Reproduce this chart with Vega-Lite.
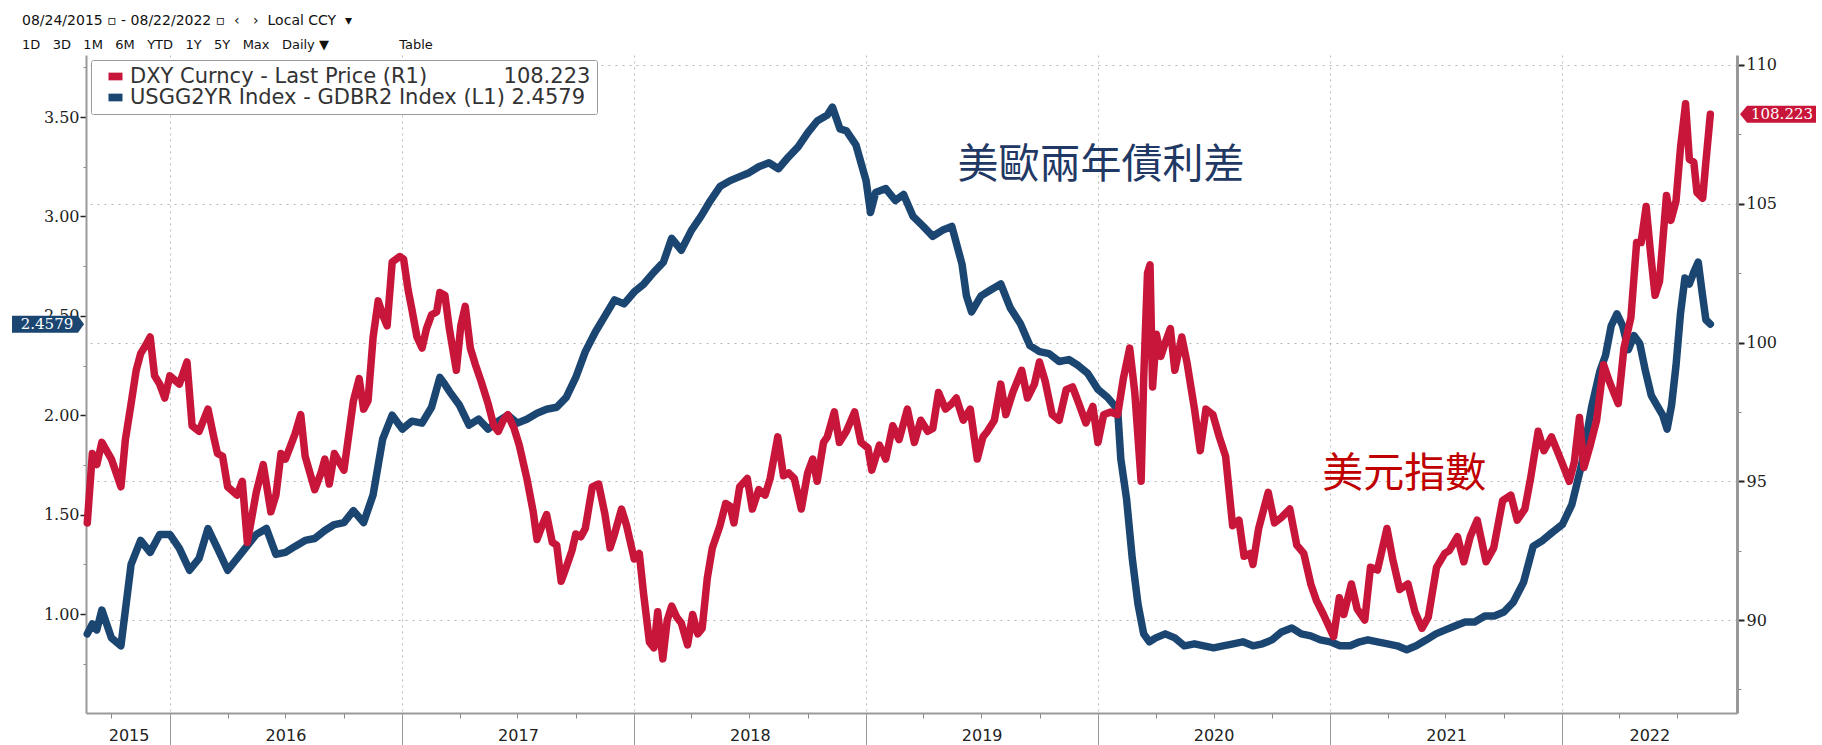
{
  "$schema": "https://vega.github.io/schema/vega-lite/v6.json",
  "width": 1651,
  "height": 658,
  "autosize": {"type": "none"},
  "padding": {"left": 86, "top": 55, "right": 85, "bottom": 32},
  "background": "white",
  "title": {
    "text": "08/24/2015 \u25ab - 08/22/2022 \u25ab \u00a0\u2039\u00a0 \u00a0\u203a\u00a0 Local CCY \u00a0\u25be",
    "subtitle": "1D \u00a0 3D \u00a0 1M \u00a0 6M \u00a0 YTD \u00a0 1Y \u00a0 5Y \u00a0 Max \u00a0 Daily \u25bc \u00a0 \u00a0 \u00a0 \u00a0 \u00a0 \u00a0 \u00a0 \u00a0 Table",
    "anchor": "start",
    "frame": "group",
    "dx": -64,
    "offset": 3,
    "font": "DejaVu Sans",
    "fontSize": 14,
    "fontWeight": "normal",
    "color": "#111111",
    "subtitleFont": "DejaVu Sans",
    "subtitleFontSize": 13,
    "subtitleColor": "#111111",
    "subtitlePadding": 11
  },
  "config": {"view": {"stroke": null}},
  "datasets": {
    "spread": [
      {"date": "2015-08-24", "value": 0.9}, {"date": "2015-09-01", "value": 0.95}, {"date": "2015-09-08", "value": 0.92}, {"date": "2015-09-16", "value": 1.02},
      {"date": "2015-10-01", "value": 0.88}, {"date": "2015-10-16", "value": 0.84}, {"date": "2015-11-01", "value": 1.25}, {"date": "2015-11-16", "value": 1.37},
      {"date": "2015-12-01", "value": 1.31}, {"date": "2015-12-16", "value": 1.4}, {"date": "2016-01-01", "value": 1.4}, {"date": "2016-01-16", "value": 1.33},
      {"date": "2016-02-01", "value": 1.22}, {"date": "2016-02-16", "value": 1.28}, {"date": "2016-03-01", "value": 1.43}, {"date": "2016-03-16", "value": 1.33},
      {"date": "2016-04-01", "value": 1.22}, {"date": "2016-04-16", "value": 1.28}, {"date": "2016-05-01", "value": 1.34}, {"date": "2016-05-16", "value": 1.4},
      {"date": "2016-06-01", "value": 1.43}, {"date": "2016-06-16", "value": 1.3}, {"date": "2016-07-01", "value": 1.31}, {"date": "2016-07-16", "value": 1.34},
      {"date": "2016-08-01", "value": 1.37}, {"date": "2016-08-16", "value": 1.38}, {"date": "2016-09-01", "value": 1.42}, {"date": "2016-09-16", "value": 1.45},
      {"date": "2016-10-01", "value": 1.46}, {"date": "2016-10-16", "value": 1.52}, {"date": "2016-11-01", "value": 1.46}, {"date": "2016-11-16", "value": 1.6},
      {"date": "2016-12-01", "value": 1.88}, {"date": "2016-12-16", "value": 2.0}, {"date": "2017-01-01", "value": 1.93}, {"date": "2017-01-16", "value": 1.97},
      {"date": "2017-02-01", "value": 1.96}, {"date": "2017-02-16", "value": 2.04}, {"date": "2017-03-01", "value": 2.19}, {"date": "2017-03-08", "value": 2.16},
      {"date": "2017-03-16", "value": 2.12}, {"date": "2017-04-01", "value": 2.05}, {"date": "2017-04-16", "value": 1.95}, {"date": "2017-05-01", "value": 1.98},
      {"date": "2017-05-16", "value": 1.93}, {"date": "2017-06-01", "value": 1.97}, {"date": "2017-06-16", "value": 2.0}, {"date": "2017-07-01", "value": 1.96},
      {"date": "2017-07-16", "value": 1.98}, {"date": "2017-08-01", "value": 2.01}, {"date": "2017-08-16", "value": 2.03}, {"date": "2017-09-01", "value": 2.04},
      {"date": "2017-09-16", "value": 2.09}, {"date": "2017-10-01", "value": 2.19}, {"date": "2017-10-16", "value": 2.32}, {"date": "2017-11-01", "value": 2.42},
      {"date": "2017-11-16", "value": 2.5}, {"date": "2017-12-01", "value": 2.58}, {"date": "2017-12-16", "value": 2.56}, {"date": "2018-01-01", "value": 2.62},
      {"date": "2018-01-16", "value": 2.66}, {"date": "2018-02-01", "value": 2.72}, {"date": "2018-02-16", "value": 2.77}, {"date": "2018-03-01", "value": 2.89},
      {"date": "2018-03-16", "value": 2.83}, {"date": "2018-04-01", "value": 2.93}, {"date": "2018-04-16", "value": 3.0}, {"date": "2018-05-01", "value": 3.08},
      {"date": "2018-05-16", "value": 3.15}, {"date": "2018-06-01", "value": 3.18}, {"date": "2018-06-16", "value": 3.2}, {"date": "2018-07-01", "value": 3.22},
      {"date": "2018-07-16", "value": 3.25}, {"date": "2018-08-01", "value": 3.27}, {"date": "2018-08-16", "value": 3.24}, {"date": "2018-09-01", "value": 3.3},
      {"date": "2018-09-16", "value": 3.35}, {"date": "2018-10-01", "value": 3.42}, {"date": "2018-10-16", "value": 3.48}, {"date": "2018-11-01", "value": 3.51},
      {"date": "2018-11-09", "value": 3.55}, {"date": "2018-11-21", "value": 3.44}, {"date": "2018-12-01", "value": 3.43}, {"date": "2018-12-16", "value": 3.36},
      {"date": "2019-01-01", "value": 3.18}, {"date": "2019-01-08", "value": 3.02}, {"date": "2019-01-16", "value": 3.12}, {"date": "2019-02-01", "value": 3.14},
      {"date": "2019-02-16", "value": 3.08}, {"date": "2019-03-01", "value": 3.11}, {"date": "2019-03-16", "value": 3.0}, {"date": "2019-04-01", "value": 2.95},
      {"date": "2019-04-16", "value": 2.9}, {"date": "2019-05-01", "value": 2.93}, {"date": "2019-05-16", "value": 2.95}, {"date": "2019-06-01", "value": 2.76},
      {"date": "2019-06-08", "value": 2.6}, {"date": "2019-06-16", "value": 2.52}, {"date": "2019-07-01", "value": 2.6}, {"date": "2019-07-16", "value": 2.63},
      {"date": "2019-08-01", "value": 2.66}, {"date": "2019-08-16", "value": 2.54}, {"date": "2019-09-01", "value": 2.46}, {"date": "2019-09-16", "value": 2.35},
      {"date": "2019-10-01", "value": 2.32}, {"date": "2019-10-16", "value": 2.31}, {"date": "2019-11-01", "value": 2.27}, {"date": "2019-11-16", "value": 2.28},
      {"date": "2019-12-01", "value": 2.25}, {"date": "2019-12-16", "value": 2.21}, {"date": "2020-01-01", "value": 2.13}, {"date": "2020-01-16", "value": 2.09},
      {"date": "2020-02-01", "value": 2.03}, {"date": "2020-02-06", "value": 1.78}, {"date": "2020-02-15", "value": 1.58}, {"date": "2020-02-24", "value": 1.28},
      {"date": "2020-03-04", "value": 1.05}, {"date": "2020-03-13", "value": 0.9}, {"date": "2020-03-22", "value": 0.86}, {"date": "2020-04-01", "value": 0.88},
      {"date": "2020-04-16", "value": 0.9}, {"date": "2020-05-01", "value": 0.88}, {"date": "2020-05-16", "value": 0.84}, {"date": "2020-06-01", "value": 0.85},
      {"date": "2020-06-16", "value": 0.84}, {"date": "2020-07-01", "value": 0.83}, {"date": "2020-07-16", "value": 0.84}, {"date": "2020-08-01", "value": 0.85},
      {"date": "2020-08-16", "value": 0.86}, {"date": "2020-09-01", "value": 0.84}, {"date": "2020-09-16", "value": 0.85}, {"date": "2020-10-01", "value": 0.87},
      {"date": "2020-10-16", "value": 0.91}, {"date": "2020-11-01", "value": 0.93}, {"date": "2020-11-16", "value": 0.9}, {"date": "2020-12-01", "value": 0.89},
      {"date": "2020-12-16", "value": 0.87}, {"date": "2021-01-01", "value": 0.86}, {"date": "2021-01-16", "value": 0.84}, {"date": "2021-02-01", "value": 0.84},
      {"date": "2021-02-16", "value": 0.86}, {"date": "2021-03-01", "value": 0.87}, {"date": "2021-03-16", "value": 0.86}, {"date": "2021-04-01", "value": 0.85},
      {"date": "2021-04-16", "value": 0.84}, {"date": "2021-05-01", "value": 0.82}, {"date": "2021-05-16", "value": 0.84}, {"date": "2021-06-01", "value": 0.87},
      {"date": "2021-06-16", "value": 0.9}, {"date": "2021-07-01", "value": 0.92}, {"date": "2021-07-16", "value": 0.94}, {"date": "2021-08-01", "value": 0.96},
      {"date": "2021-08-16", "value": 0.96}, {"date": "2021-09-01", "value": 0.99}, {"date": "2021-09-16", "value": 0.99}, {"date": "2021-10-01", "value": 1.01},
      {"date": "2021-10-16", "value": 1.06}, {"date": "2021-11-01", "value": 1.16}, {"date": "2021-11-16", "value": 1.34}, {"date": "2021-12-01", "value": 1.37},
      {"date": "2021-12-16", "value": 1.41}, {"date": "2022-01-01", "value": 1.45}, {"date": "2022-01-16", "value": 1.55}, {"date": "2022-02-01", "value": 1.76},
      {"date": "2022-02-16", "value": 2.04}, {"date": "2022-03-01", "value": 2.22}, {"date": "2022-03-10", "value": 2.3}, {"date": "2022-03-19", "value": 2.45},
      {"date": "2022-03-28", "value": 2.51}, {"date": "2022-04-06", "value": 2.45}, {"date": "2022-04-15", "value": 2.33}, {"date": "2022-04-24", "value": 2.4},
      {"date": "2022-05-03", "value": 2.36}, {"date": "2022-05-12", "value": 2.22}, {"date": "2022-05-21", "value": 2.1}, {"date": "2022-05-30", "value": 2.05},
      {"date": "2022-06-08", "value": 2.0}, {"date": "2022-06-15", "value": 1.93}, {"date": "2022-06-22", "value": 2.05}, {"date": "2022-06-29", "value": 2.25},
      {"date": "2022-07-06", "value": 2.51}, {"date": "2022-07-13", "value": 2.69}, {"date": "2022-07-20", "value": 2.66}, {"date": "2022-07-27", "value": 2.72},
      {"date": "2022-08-03", "value": 2.77}, {"date": "2022-08-09", "value": 2.62}, {"date": "2022-08-15", "value": 2.48}, {"date": "2022-08-22", "value": 2.4579}
    ],
    "dxy": [
      {"date": "2015-08-24", "value": 93.5}, {"date": "2015-09-01", "value": 96.0}, {"date": "2015-09-08", "value": 95.6}, {"date": "2015-09-16", "value": 96.4},
      {"date": "2015-10-01", "value": 95.8}, {"date": "2015-10-16", "value": 94.8}, {"date": "2015-10-23", "value": 96.5}, {"date": "2015-11-01", "value": 97.8},
      {"date": "2015-11-09", "value": 99.0}, {"date": "2015-11-16", "value": 99.6}, {"date": "2015-11-24", "value": 99.9}, {"date": "2015-12-01", "value": 100.2},
      {"date": "2015-12-08", "value": 98.8}, {"date": "2015-12-16", "value": 98.5}, {"date": "2015-12-24", "value": 98.0}, {"date": "2016-01-01", "value": 98.8},
      {"date": "2016-01-16", "value": 98.5}, {"date": "2016-01-28", "value": 99.3}, {"date": "2016-02-05", "value": 97.0}, {"date": "2016-02-16", "value": 96.8},
      {"date": "2016-03-01", "value": 97.6}, {"date": "2016-03-10", "value": 96.6}, {"date": "2016-03-16", "value": 96.0}, {"date": "2016-03-24", "value": 95.9},
      {"date": "2016-04-01", "value": 94.8}, {"date": "2016-04-16", "value": 94.5}, {"date": "2016-04-24", "value": 95.0}, {"date": "2016-05-02", "value": 92.8},
      {"date": "2016-05-16", "value": 94.6}, {"date": "2016-05-27", "value": 95.6}, {"date": "2016-06-08", "value": 93.9}, {"date": "2016-06-16", "value": 94.5},
      {"date": "2016-06-24", "value": 96.0}, {"date": "2016-07-01", "value": 95.8}, {"date": "2016-07-16", "value": 96.7}, {"date": "2016-07-25", "value": 97.4},
      {"date": "2016-08-01", "value": 95.9}, {"date": "2016-08-16", "value": 94.7}, {"date": "2016-08-26", "value": 95.3}, {"date": "2016-09-01", "value": 95.8},
      {"date": "2016-09-08", "value": 94.9}, {"date": "2016-09-16", "value": 96.0}, {"date": "2016-10-01", "value": 95.4}, {"date": "2016-10-16", "value": 97.9},
      {"date": "2016-10-25", "value": 98.7}, {"date": "2016-11-01", "value": 97.6}, {"date": "2016-11-08", "value": 97.9}, {"date": "2016-11-16", "value": 100.2},
      {"date": "2016-11-24", "value": 101.5}, {"date": "2016-12-01", "value": 101.0}, {"date": "2016-12-08", "value": 100.6}, {"date": "2016-12-16", "value": 102.9},
      {"date": "2016-12-28", "value": 103.1}, {"date": "2017-01-03", "value": 103.0}, {"date": "2017-01-10", "value": 101.9}, {"date": "2017-01-16", "value": 101.2},
      {"date": "2017-01-24", "value": 100.2}, {"date": "2017-02-01", "value": 99.8}, {"date": "2017-02-08", "value": 100.5}, {"date": "2017-02-16", "value": 101.0},
      {"date": "2017-02-24", "value": 101.1}, {"date": "2017-03-01", "value": 101.8}, {"date": "2017-03-09", "value": 101.7}, {"date": "2017-03-16", "value": 100.5},
      {"date": "2017-03-27", "value": 99.0}, {"date": "2017-04-03", "value": 100.6}, {"date": "2017-04-10", "value": 101.3}, {"date": "2017-04-18", "value": 99.8},
      {"date": "2017-04-26", "value": 99.2}, {"date": "2017-05-05", "value": 98.6}, {"date": "2017-05-16", "value": 97.8}, {"date": "2017-05-25", "value": 97.0},
      {"date": "2017-06-01", "value": 96.8}, {"date": "2017-06-09", "value": 97.2}, {"date": "2017-06-16", "value": 97.4}, {"date": "2017-06-26", "value": 96.9},
      {"date": "2017-07-04", "value": 96.3}, {"date": "2017-07-16", "value": 95.1}, {"date": "2017-07-26", "value": 93.9}, {"date": "2017-08-01", "value": 92.9},
      {"date": "2017-08-09", "value": 93.4}, {"date": "2017-08-16", "value": 93.8}, {"date": "2017-08-25", "value": 92.8}, {"date": "2017-09-01", "value": 92.7},
      {"date": "2017-09-08", "value": 91.4}, {"date": "2017-09-16", "value": 91.9}, {"date": "2017-09-25", "value": 92.5}, {"date": "2017-10-01", "value": 93.1},
      {"date": "2017-10-09", "value": 93.0}, {"date": "2017-10-16", "value": 93.3}, {"date": "2017-10-27", "value": 94.8}, {"date": "2017-11-06", "value": 94.9},
      {"date": "2017-11-16", "value": 93.8}, {"date": "2017-11-24", "value": 92.6}, {"date": "2017-12-01", "value": 93.1}, {"date": "2017-12-12", "value": 94.0},
      {"date": "2017-12-20", "value": 93.4}, {"date": "2018-01-01", "value": 92.2}, {"date": "2018-01-09", "value": 92.4}, {"date": "2018-01-16", "value": 90.9},
      {"date": "2018-01-25", "value": 89.2}, {"date": "2018-02-01", "value": 89.0}, {"date": "2018-02-07", "value": 90.3}, {"date": "2018-02-15", "value": 88.6},
      {"date": "2018-02-22", "value": 90.0}, {"date": "2018-03-01", "value": 90.5}, {"date": "2018-03-09", "value": 90.1}, {"date": "2018-03-16", "value": 89.9},
      {"date": "2018-03-26", "value": 89.1}, {"date": "2018-04-03", "value": 90.2}, {"date": "2018-04-11", "value": 89.5}, {"date": "2018-04-18", "value": 89.7},
      {"date": "2018-04-26", "value": 91.5}, {"date": "2018-05-04", "value": 92.6}, {"date": "2018-05-16", "value": 93.4}, {"date": "2018-05-25", "value": 94.2},
      {"date": "2018-06-01", "value": 94.1}, {"date": "2018-06-07", "value": 93.5}, {"date": "2018-06-16", "value": 94.8}, {"date": "2018-06-28", "value": 95.1},
      {"date": "2018-07-06", "value": 94.0}, {"date": "2018-07-16", "value": 94.7}, {"date": "2018-07-26", "value": 94.5}, {"date": "2018-08-03", "value": 95.1},
      {"date": "2018-08-15", "value": 96.6}, {"date": "2018-08-24", "value": 95.2}, {"date": "2018-09-01", "value": 95.3}, {"date": "2018-09-10", "value": 95.1},
      {"date": "2018-09-21", "value": 94.0}, {"date": "2018-10-01", "value": 95.3}, {"date": "2018-10-09", "value": 95.8}, {"date": "2018-10-16", "value": 95.0},
      {"date": "2018-10-26", "value": 96.4}, {"date": "2018-11-01", "value": 96.6}, {"date": "2018-11-12", "value": 97.5}, {"date": "2018-11-20", "value": 96.4},
      {"date": "2018-12-01", "value": 96.8}, {"date": "2018-12-14", "value": 97.5}, {"date": "2018-12-24", "value": 96.4}, {"date": "2019-01-04", "value": 96.2},
      {"date": "2019-01-10", "value": 95.4}, {"date": "2019-01-22", "value": 96.3}, {"date": "2019-02-01", "value": 95.8}, {"date": "2019-02-12", "value": 97.0},
      {"date": "2019-02-22", "value": 96.5}, {"date": "2019-03-07", "value": 97.6}, {"date": "2019-03-18", "value": 96.4}, {"date": "2019-03-28", "value": 97.2},
      {"date": "2019-04-08", "value": 96.8}, {"date": "2019-04-16", "value": 96.9}, {"date": "2019-04-25", "value": 98.2}, {"date": "2019-05-06", "value": 97.6},
      {"date": "2019-05-16", "value": 97.8}, {"date": "2019-05-23", "value": 98.0}, {"date": "2019-06-03", "value": 97.2}, {"date": "2019-06-14", "value": 97.6},
      {"date": "2019-06-25", "value": 95.8}, {"date": "2019-07-04", "value": 96.6}, {"date": "2019-07-11", "value": 96.8}, {"date": "2019-07-22", "value": 97.2},
      {"date": "2019-08-01", "value": 98.5}, {"date": "2019-08-09", "value": 97.4}, {"date": "2019-08-20", "value": 98.2}, {"date": "2019-09-03", "value": 99.0},
      {"date": "2019-09-12", "value": 98.0}, {"date": "2019-09-23", "value": 98.5}, {"date": "2019-10-01", "value": 99.3}, {"date": "2019-10-10", "value": 98.6},
      {"date": "2019-10-21", "value": 97.4}, {"date": "2019-11-01", "value": 97.2}, {"date": "2019-11-12", "value": 98.3}, {"date": "2019-11-22", "value": 98.4},
      {"date": "2019-12-02", "value": 97.8}, {"date": "2019-12-13", "value": 97.1}, {"date": "2019-12-24", "value": 97.7}, {"date": "2020-01-01", "value": 96.4},
      {"date": "2020-01-10", "value": 97.4}, {"date": "2020-01-21", "value": 97.5}, {"date": "2020-02-01", "value": 97.4}, {"date": "2020-02-10", "value": 98.7},
      {"date": "2020-02-20", "value": 99.8}, {"date": "2020-02-28", "value": 98.2}, {"date": "2020-03-09", "value": 95.0}, {"date": "2020-03-13", "value": 98.7},
      {"date": "2020-03-19", "value": 102.5}, {"date": "2020-03-23", "value": 102.8}, {"date": "2020-03-27", "value": 98.4}, {"date": "2020-04-02", "value": 100.3},
      {"date": "2020-04-09", "value": 99.5}, {"date": "2020-04-16", "value": 100.0}, {"date": "2020-04-24", "value": 100.5}, {"date": "2020-05-01", "value": 99.0},
      {"date": "2020-05-12", "value": 100.2}, {"date": "2020-05-20", "value": 99.3}, {"date": "2020-06-01", "value": 97.6}, {"date": "2020-06-10", "value": 96.1},
      {"date": "2020-06-19", "value": 97.6}, {"date": "2020-06-30", "value": 97.4}, {"date": "2020-07-10", "value": 96.6}, {"date": "2020-07-20", "value": 95.9},
      {"date": "2020-07-31", "value": 93.4}, {"date": "2020-08-10", "value": 93.6}, {"date": "2020-08-18", "value": 92.3}, {"date": "2020-08-28", "value": 92.4},
      {"date": "2020-09-01", "value": 92.0}, {"date": "2020-09-10", "value": 93.3}, {"date": "2020-09-25", "value": 94.6}, {"date": "2020-10-05", "value": 93.5},
      {"date": "2020-10-16", "value": 93.7}, {"date": "2020-10-29", "value": 94.0}, {"date": "2020-11-09", "value": 92.7}, {"date": "2020-11-20", "value": 92.4},
      {"date": "2020-12-01", "value": 91.3}, {"date": "2020-12-10", "value": 90.7}, {"date": "2020-12-21", "value": 90.2}, {"date": "2021-01-06", "value": 89.4},
      {"date": "2021-01-15", "value": 90.8}, {"date": "2021-01-22", "value": 90.2}, {"date": "2021-02-03", "value": 91.3}, {"date": "2021-02-12", "value": 90.4},
      {"date": "2021-02-24", "value": 90.0}, {"date": "2021-03-05", "value": 91.9}, {"date": "2021-03-16", "value": 91.8}, {"date": "2021-03-31", "value": 93.3},
      {"date": "2021-04-09", "value": 92.2}, {"date": "2021-04-20", "value": 91.1}, {"date": "2021-05-03", "value": 91.3}, {"date": "2021-05-14", "value": 90.3},
      {"date": "2021-05-25", "value": 89.7}, {"date": "2021-06-04", "value": 90.1}, {"date": "2021-06-17", "value": 91.9}, {"date": "2021-06-30", "value": 92.4},
      {"date": "2021-07-07", "value": 92.5}, {"date": "2021-07-20", "value": 93.0}, {"date": "2021-07-30", "value": 92.1}, {"date": "2021-08-09", "value": 93.0},
      {"date": "2021-08-20", "value": 93.6}, {"date": "2021-09-03", "value": 92.1}, {"date": "2021-09-15", "value": 92.6}, {"date": "2021-09-29", "value": 94.3},
      {"date": "2021-10-12", "value": 94.5}, {"date": "2021-10-22", "value": 93.6}, {"date": "2021-11-03", "value": 94.0}, {"date": "2021-11-12", "value": 95.1},
      {"date": "2021-11-24", "value": 96.8}, {"date": "2021-12-03", "value": 96.1}, {"date": "2021-12-15", "value": 96.6}, {"date": "2021-12-31", "value": 95.7},
      {"date": "2022-01-12", "value": 95.0}, {"date": "2022-01-20", "value": 95.7}, {"date": "2022-01-28", "value": 97.3}, {"date": "2022-02-04", "value": 95.5},
      {"date": "2022-02-14", "value": 96.3}, {"date": "2022-02-24", "value": 97.2}, {"date": "2022-03-07", "value": 99.2}, {"date": "2022-03-16", "value": 98.6},
      {"date": "2022-03-30", "value": 97.8}, {"date": "2022-04-08", "value": 99.8}, {"date": "2022-04-19", "value": 100.9}, {"date": "2022-04-28", "value": 103.6},
      {"date": "2022-05-05", "value": 103.6}, {"date": "2022-05-13", "value": 104.9}, {"date": "2022-05-20", "value": 103.2}, {"date": "2022-05-27", "value": 101.7},
      {"date": "2022-06-03", "value": 102.2}, {"date": "2022-06-14", "value": 105.3}, {"date": "2022-06-21", "value": 104.4}, {"date": "2022-06-29", "value": 105.1},
      {"date": "2022-07-06", "value": 107.0}, {"date": "2022-07-14", "value": 108.6}, {"date": "2022-07-20", "value": 106.6}, {"date": "2022-07-27", "value": 106.5},
      {"date": "2022-08-01", "value": 105.4}, {"date": "2022-08-10", "value": 105.2}, {"date": "2022-08-15", "value": 106.5}, {"date": "2022-08-22", "value": 108.223}
    ],
    "noteSpread": [{"date": "2020-01-06", "value": 3.254, "label": "美歐兩年債利差"}],
    "noteDxy": [{"date": "2021-04-27", "value": 95.23, "label": "美元指數"}],
    "tagSpread": [{"date": "2015-08-22", "value": 2.4579, "label": "2.4579"}],
    "tagDxy": [{"date": "2022-10-03", "value": 108.223, "label": "108.223"}]
  },
  "resolve": {"scale": {"y": "independent"}, "axis": {"x": "independent", "y": "independent"}},
  "layer": [
    {
      "data": {"name": "noteSpread"},
      "mark": {"type": "text", "font": "Noto Sans CJK TC", "fontSize": 41, "color": "#1f3864", "align": "center", "baseline": "middle"},
      "encoding": {
        "x": {"field": "date", "type": "temporal",
          "scale": {"domain": [{"year": 2015, "month": 8, "date": 22, "utc": true}, {"year": 2022, "month": 10, "date": 3, "utc": true}]},
          "axis": {"orient": "bottom", "values": [
            {"year": 2015, "month": 10, "date": 1, "utc": true},
            {"year": 2016, "month": 4, "date": 1, "utc": true}, {"year": 2016, "month": 7, "date": 1, "utc": true}, {"year": 2016, "month": 10, "date": 1, "utc": true},
            {"year": 2017, "month": 4, "date": 1, "utc": true}, {"year": 2017, "month": 7, "date": 1, "utc": true}, {"year": 2017, "month": 10, "date": 1, "utc": true},
            {"year": 2018, "month": 4, "date": 1, "utc": true}, {"year": 2018, "month": 7, "date": 1, "utc": true}, {"year": 2018, "month": 10, "date": 1, "utc": true},
            {"year": 2019, "month": 4, "date": 1, "utc": true}, {"year": 2019, "month": 7, "date": 1, "utc": true}, {"year": 2019, "month": 10, "date": 1, "utc": true},
            {"year": 2020, "month": 4, "date": 1, "utc": true}, {"year": 2020, "month": 7, "date": 1, "utc": true}, {"year": 2020, "month": 10, "date": 1, "utc": true},
            {"year": 2021, "month": 4, "date": 1, "utc": true}, {"year": 2021, "month": 7, "date": 1, "utc": true}, {"year": 2021, "month": 10, "date": 1, "utc": true},
            {"year": 2022, "month": 4, "date": 1, "utc": true}, {"year": 2022, "month": 7, "date": 1, "utc": true}],
            "labels": false, "domain": false, "grid": false, "ticks": true, "tickSize": 5, "tickColor": "#888888", "title": null}},
        "y": {"field": "value", "type": "quantitative", "scale": {"domain": [0.502, 3.812], "nice": false, "zero": false},
          "axis": {"orient": "left", "values": [0.75, 1.25, 1.75, 2.25, 2.75, 3.25, 3.75], "labels": false, "domain": false, "grid": false, "tickSize": 3, "tickColor": "#888888", "title": null}},
        "text": {"field": "label"}
      }
    },
    {
      "data": {"name": "noteDxy"},
      "mark": {"type": "text", "font": "Noto Sans CJK TC", "fontSize": 41, "color": "#c00000", "align": "center", "baseline": "middle"},
      "encoding": {
        "x": {"field": "date", "type": "temporal", "axis": null},
        "y": {"field": "value", "type": "quantitative", "scale": {"domain": [86.65, 110.36], "nice": false, "zero": false},
          "axis": {"orient": "right", "values": [87.5, 92.5, 97.5, 102.5, 107.5], "labels": false, "domain": false, "grid": false, "tickSize": 4, "tickColor": "#888888", "title": null}},
        "text": {"field": "label"}
      }
    },
    {
      "data": {"name": "spread"},
      "mark": {"type": "line", "strokeWidth": 7.5, "strokeJoin": "round", "strokeCap": "round"},
      "encoding": {
        "x": {"field": "date", "type": "temporal",
          "axis": {"orient": "bottom", "values": [
            {"year": 2016, "month": 1, "date": 1, "utc": true}, {"year": 2017, "month": 1, "date": 1, "utc": true}, {"year": 2018, "month": 1, "date": 1, "utc": true},
            {"year": 2019, "month": 1, "date": 1, "utc": true}, {"year": 2020, "month": 1, "date": 1, "utc": true}, {"year": 2021, "month": 1, "date": 1, "utc": true},
            {"year": 2022, "month": 1, "date": 1, "utc": true}],
            "labels": false, "ticks": true, "tickSize": 32, "tickColor": "#999999", "tickWidth": 1,
            "grid": true, "gridDash": [2, 4], "gridColor": "#bbbbbb", "gridWidth": 1,
            "domain": true, "domainColor": "#999999", "domainWidth": 2, "title": null}},
        "y": {"field": "value", "type": "quantitative", "scale": {"domain": [0.502, 3.812], "nice": false, "zero": false},
          "axis": {"orient": "left", "values": [1, 1.5, 2, 2.5, 3, 3.5], "format": ".2f", "labelFont": "DejaVu Serif", "labelFontSize": 16,
            "labelColor": "#222222", "labelOverlap": false, "labelPadding": 1, "tickSize": 6, "tickColor": "#222222", "tickWidth": 1.5,
            "domainColor": "#999999", "domainWidth": 2, "grid": false, "title": null, "zindex": 0}},
        "color": {"datum": "USGG2YR Index - GDBR2 Index (L1)", "type": "nominal",
          "scale": {"domain": ["DXY Curncy - Last Price (R1)", "USGG2YR Index - GDBR2 Index (L1)"], "range": ["#c8163a", "#1b4672"]},
          "legend": {"orient": "top-left", "offset": 5, "title": null, "fillColor": "white", "strokeColor": "#9a9a9a", "cornerRadius": 2,
            "padding": 6, "symbolOffset": 8, "symbolType": "M-1,-0.55L1,-0.55L1,0.55L-1,0.55Z", "symbolSize": 196, "symbolStrokeWidth": 0,
            "labelFont": "DejaVu Sans", "labelFontSize": 21,
            "labelColor": "#333333", "labelLimit": 900, "labelOffset": 4, "rowPadding": -4,
            "labelExpr": "datum.label == 'DXY Curncy - Last Price (R1)' ? datum.label + '\u2003\u2003\u2003\u00a0\u00a0108.223\u00a0\u00a0' : datum.label + ' 2.4579\u00a0\u00a0'",
            "encode": {"symbols": {"update": {"fill": {"scale": "color", "field": "value"}, "strokeWidth": {"value": 0}}}}}}
      }
    },
    {
      "data": {"name": "dxy"},
      "mark": {"type": "line", "strokeWidth": 7.5, "strokeJoin": "round", "strokeCap": "round"},
      "encoding": {
        "x": {"field": "date", "type": "temporal",
          "axis": {"orient": "bottom", "values": [
            {"year": 2015, "month": 10, "date": 28, "utc": true}, {"year": 2016, "month": 7, "date": 1, "utc": true}, {"year": 2017, "month": 7, "date": 2, "utc": true},
            {"year": 2018, "month": 7, "date": 2, "utc": true}, {"year": 2019, "month": 7, "date": 2, "utc": true}, {"year": 2020, "month": 7, "date": 1, "utc": true},
            {"year": 2021, "month": 7, "date": 2, "utc": true}, {"year": 2022, "month": 5, "date": 18, "utc": true}],
            "format": "%Y", "labelFont": "DejaVu Sans", "labelFontSize": 16, "labelColor": "#222222", "labelPadding": 14,
            "labelFlush": false, "labelAlign": "center", "labelOverlap": false, "ticks": false, "domain": false, "grid": false, "title": null}},
        "y": {"field": "value", "type": "quantitative", "scale": {"domain": [86.65, 110.36], "nice": false, "zero": false},
          "axis": {"orient": "right", "values": [90, 95, 100, 105, 110], "labelFont": "DejaVu Serif", "labelFontSize": 16, "labelColor": "#222222",
            "labelOverlap": false, "labelPadding": 2, "tickSize": 7, "tickColor": "#222222", "tickWidth": 2,
            "domainColor": "#999999", "domainWidth": 3, "grid": true, "gridDash": [2, 5], "gridColor": "#b5b5b5", "gridWidth": 1, "title": null}},
        "color": {"datum": "DXY Curncy - Last Price (R1)", "type": "nominal"}
      }
    },
    {
      "data": {"name": "tagSpread"},
      "mark": {"type": "point", "shape": "M-3.6,-0.85L3.0,-0.85L3.6,0L3.0,0.85L-3.6,0.85Z", "size": 400, "filled": true, "fill": "#1b4672", "opacity": 1, "xOffset": -38, "clip": false},
      "encoding": {
        "x": {"field": "date", "type": "temporal", "axis": null},
        "y": {"field": "value", "type": "quantitative", "scale": {"domain": [0.502, 3.812], "nice": false, "zero": false}, "axis": null}
      }
    },
    {
      "data": {"name": "tagSpread"},
      "mark": {"type": "text", "font": "DejaVu Serif", "fontSize": 15, "color": "white", "align": "center", "baseline": "middle", "xOffset": -39, "clip": false},
      "encoding": {
        "x": {"field": "date", "type": "temporal", "axis": null},
        "y": {"field": "value", "type": "quantitative", "scale": {"domain": [0.502, 3.812], "nice": false, "zero": false}, "axis": null},
        "text": {"field": "label"}
      }
    },
    {
      "data": {"name": "tagDxy"},
      "mark": {"type": "point", "shape": "M-3.8,0L-3.1,-0.85L3.8,-0.85L3.8,0.85L-3.1,0.85Z", "size": 400, "filled": true, "fill": "#c8163a", "opacity": 1, "xOffset": 41, "clip": false},
      "encoding": {
        "x": {"field": "date", "type": "temporal", "axis": null},
        "y": {"field": "value", "type": "quantitative", "scale": {"domain": [86.65, 110.36], "nice": false, "zero": false}, "axis": null}
      }
    },
    {
      "data": {"name": "tagDxy"},
      "mark": {"type": "text", "font": "DejaVu Serif", "fontSize": 15, "color": "white", "align": "center", "baseline": "middle", "xOffset": 45, "clip": false},
      "encoding": {
        "x": {"field": "date", "type": "temporal", "axis": null},
        "y": {"field": "value", "type": "quantitative", "scale": {"domain": [86.65, 110.36], "nice": false, "zero": false}, "axis": null},
        "text": {"field": "label"}
      }
    }
  ]
}
